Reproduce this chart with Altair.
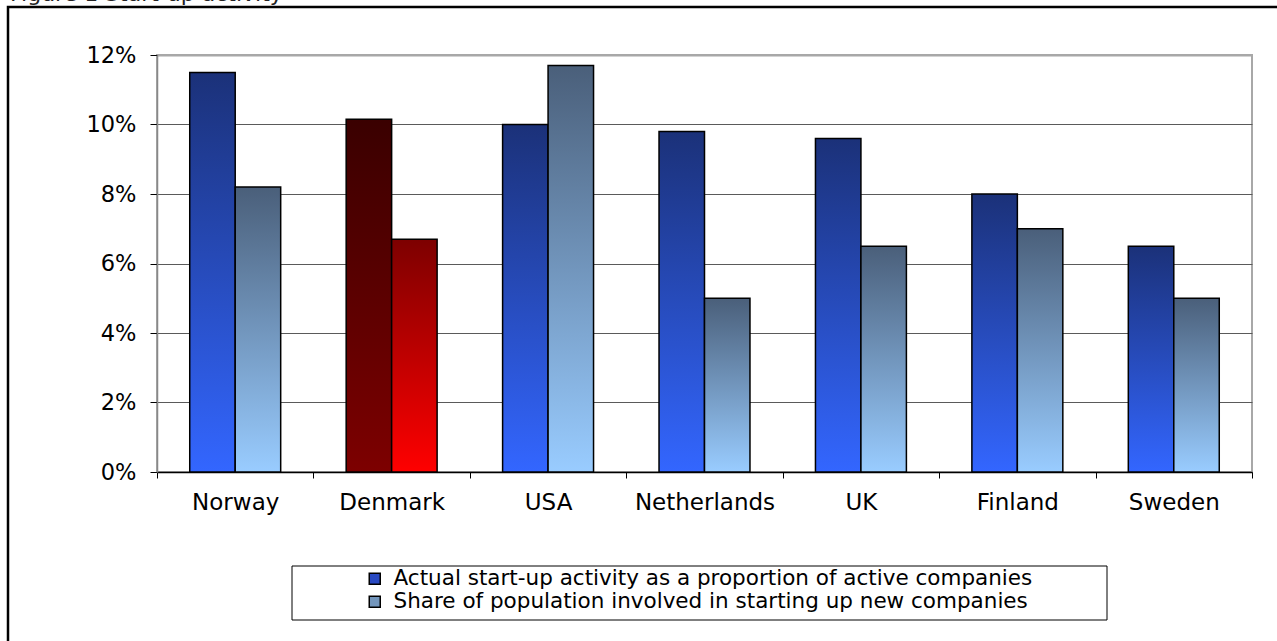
import altair as alt
import pandas as pd

# Start-up activity by country (percent)
countries = ["Norway", "Denmark", "USA", "Netherlands", "UK", "Finland", "Sweden"]
activity = [11.5, 10.15, 10.0, 9.8, 9.6, 8.0, 6.5]
population = [8.2, 6.7, 11.7, 5.0, 6.5, 7.0, 5.0]
series_names = [
    "Actual start-up activity as a proportion of active companies",
    "Share of population involved in starting up new companies",
]
highlight = "Denmark"
heading = "Figure 1   Start-up activity"

rows = []
for c, a, p in zip(countries, activity, population):
    rows.append({"country": c, "series": series_names[0], "value": a / 100})
    rows.append({"country": c, "series": series_names[1], "value": p / 100})
df = pd.DataFrame(rows)

FONT = "DejaVu Sans"


def vgrad(top, bottom):
    return alt.Gradient(
        gradient="linear",
        stops=[alt.GradientStop(color=top, offset=0),
               alt.GradientStop(color=bottom, offset=1)],
        x1=0, x2=0, y1=0, y2=1,
    )


fills = {
    (False, 0): vgrad("#1b3179", "#3366ff"),
    (False, 1): vgrad("#4a5f7a", "#99ccff"),
    (True, 0): vgrad("#3a0000", "#7d0000"),
    (True, 1): vgrad("#7d0000", "#ff0000"),
}
legend_colors = ["#2849c2", "#7396bc"]

x_enc = alt.X(
    "country:N",
    sort=countries,
    scale=alt.Scale(domain=countries, paddingInner=0, paddingOuter=0),
    axis=alt.Axis(
        title=None, labelAngle=0, tickBand="extent", tickSize=6,
        tickColor="black", domainColor="black", domainWidth=1.5,
        labelFontSize=23, labelPadding=13, grid=False,
    ),
)
xoff_enc = alt.XOffset(
    "series:N",
    scale=alt.Scale(domain=series_names, paddingOuter=0.72, paddingInner=0),
)
y_enc = alt.Y(
    "value:Q",
    scale=alt.Scale(domain=[0, 0.12], nice=False),
    axis=alt.Axis(
        title=None, format=".0%", values=[0, 0.02, 0.04, 0.06, 0.08, 0.10, 0.12],
        tickSize=7, tickColor="black", domainColor="#888888", domainWidth=1.5,
        labelFontSize=22.5, labelPadding=14,
        gridColor={"condition": {"test": "datum.value >= 0.119", "value": "#a8a8a8"},
                   "value": "#5a5a5a"},
        gridWidth={"condition": {"test": "datum.value >= 0.119", "value": 2},
                   "value": 1},
    ),
)

layers = []
for is_dk in (False, True):
    for i, name in enumerate(series_names):
        test = (f"datum.country {'==' if is_dk else '!='} '{highlight}' "
                f"&& datum.series == '{name}'")
        layers.append(
            alt.Chart(df)
            .transform_filter(test)
            .mark_bar(fill=fills[(is_dk, i)], stroke="black", strokeWidth=1.5)
            .encode(x=x_enc, xOffset=xoff_enc, y=y_enc)
        )

# Legend entries (no marks drawn, only the legend from the fixed domain)
legend_layer = (
    alt.Chart(df)
    .transform_filter("false")
    .mark_square()
    .encode(
        x=x_enc, y=y_enc,
        fill=alt.Fill(
            "series:N",
            scale=alt.Scale(domain=series_names, range=legend_colors),
            legend=alt.Legend(
                title=None, orient="none", legendX=207, legendY=513,
                labelFontSize=21.5, labelFont=FONT, labelColor="black",
                symbolType="square", symbolSize=121, symbolStrokeColor="black",
                symbolStrokeWidth=1.5, symbolOpacity=1, labelOffset=8,
                rowPadding=0, padding=0, labelLimit=900,
            ),
        ),
    )
)

one = alt.Data(values=[{}])

# Legend frame and outer page frame
legend_box = alt.Chart(one).mark_rect(fill=None, stroke="black", strokeWidth=1).encode(
    x=alt.value(135), x2=alt.value(950), y=alt.value(511), y2=alt.value(565)
)
page_box = alt.Chart(one).mark_rect(fill=None, stroke="black", strokeWidth=2.5).encode(
    x=alt.value(-149), x2=alt.value(1140), y=alt.value(-48), y2=alt.value(600)
)
head = alt.Chart(one).mark_text(
    font=FONT, fontSize=22, align="left", baseline="alphabetic", color="#222222"
).encode(x=alt.value(-147), y=alt.value(-54.5), text=alt.value(heading))

chart = (
    alt.layer(page_box, head, legend_box, *layers, legend_layer)
    .properties(
        width=1095, height=417,
        autosize=alt.AutoSizeParams(type="none"),
        padding={"left": 157, "top": 55, "right": 25, "bottom": 169},
        background="white",
    )
    .configure_view(stroke="#a8a8a8", strokeWidth=2)
    .configure_axis(labelFont=FONT, labelColor="black")
)

chart.save("out.html", embed_options={"renderer": "svg", "actions": False})
